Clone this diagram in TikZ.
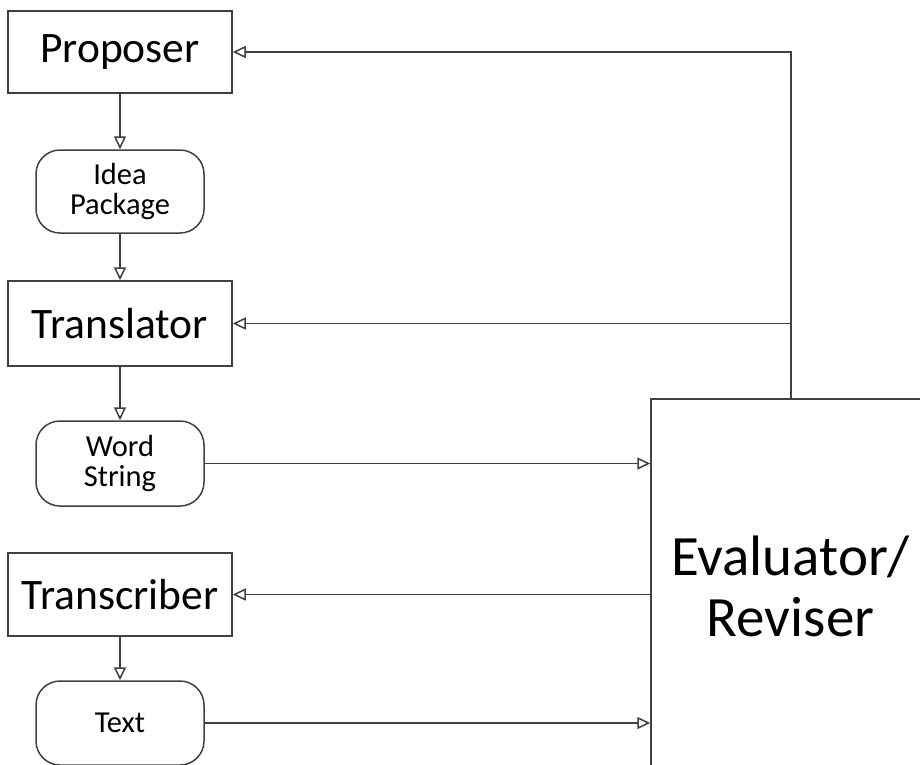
\documentclass[tikz,border=0pt]{standalone}
\usepackage{fontspec}
\setmainfont{Carlito}
\usetikzlibrary{arrows.meta,calc}
\definecolor{linec}{HTML}{404040}
\tikzset{
  bigbox/.style={draw=linec, line width=1.5pt, rectangle, inner sep=0pt, minimum width=224pt,
    font=\fontsize{43.5}{46}\selectfont, text=black},
  pill/.style={draw=linec, line width=1.5pt, rectangle, rounded corners=24pt, inner sep=0pt,
    minimum width=168pt, align=center, font=\fontsize{30.5}{30}\selectfont, text=black},
  evbox/.style={draw=linec, line width=1.5pt, rectangle, inner sep=0pt, minimum width=279pt,
    minimum height=374pt, align=center, font=\fontsize{57}{61}\selectfont, text=black},
  arr/.style={draw=linec, line width=1.5pt, -{Triangle[open, length=13pt, width=12pt, fill=white]}}
}
\begin{document}
\begin{tikzpicture}[x=1pt,y=-1pt]
\useasboundingbox (0,0) rectangle (920,764);
\clip (0,0) rectangle (920,764);
\node[bigbox, minimum height=82pt] (prop) at (120,52) {Proposer};
\node[pill, minimum height=83pt] (idea) at (120,191.5) {Idea\\Package};
\node[bigbox, minimum height=85pt] (trans) at (120,323.5) {Translator};
\node[pill, minimum height=85pt] (word) at (120,463.5) {Word\\String};
\node[bigbox, minimum height=83pt] (transc) at (120,594.5) {Transcriber};
\node[pill, minimum height=84pt] (text) at (120,723) {Text};
\node[evbox] (ev) at (790.5,586) {Evaluator/\\Reviser};
\coordinate (j1) at (791,52);
\coordinate (j2) at (791,323.5);
\draw[arr] (prop) -- (idea);
\draw[arr] (idea) -- (trans);
\draw[arr] (trans) -- (word);
\draw[arr] (transc) -- (text);
\draw[arr] (ev.north -| j1) -- (j1) -- (prop.east);
\draw[arr] (j2) -- (trans.east);
\draw[arr] (word.east) -- (word.east -| ev.west);
\draw[arr] (ev.west |- transc.east) -- (transc.east);
\draw[arr] (text.east) -- (text.east -| ev.west);
\end{tikzpicture}
\end{document}
